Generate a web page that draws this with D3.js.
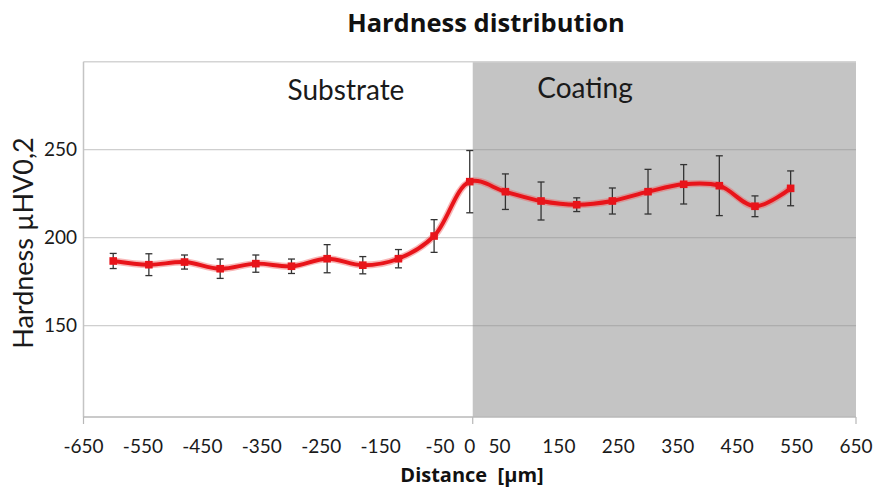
<!DOCTYPE html>
<html>
<head>
<meta charset="utf-8">
<script src="https://cdn.jsdelivr.net/npm/d3@7"></script>
<style>
  html, body { margin: 0; padding: 0; background: #ffffff; }
  svg { display: block; }
  text { font-family: Lato, "Open Sans", "DejaVu Sans", sans-serif; fill: #1a1a1a; }
  .bold { font-family: "Open Sans", Lato, "DejaVu Sans", sans-serif; font-weight: bold; fill: #111; }
</style>
</head>
<body>
<svg id="chart" width="875" height="490"></svg>
<script>
// ---- data ----
const distances = [-600, -540, -480, -420, -360, -300, -240, -180, -120, -60, 0,
                   60, 120, 180, 240, 300, 360, 420, 480, 540];
const hardness  = [186.7, 184.6, 186.1, 182.3, 185.2, 183.7, 188.0, 184.3, 188.0, 200.9, 231.8,
                   226.1, 220.8, 218.7, 220.8, 226.1, 230.3, 229.5, 217.8, 228.0];
const errors    = [4.3, 6.2, 4.0, 5.5, 4.9, 4.1, 8.0, 4.9, 5.2, 9.3, 17.7,
                   10.1, 10.8, 3.9, 7.4, 12.7, 11.2, 17.0, 5.9, 9.9];
const xTickValues = [-650, -550, -450, -350, -250, -150, -50, 0, 50, 150, 250, 350, 450, 550, 650];
const yTickValues = [150, 200, 250];
const xDomain = [-650, 650];
const yDomain = [98, 300];
const coatingStart = 5;
const titleText = "Hardness distribution";
const xTitle = "Distance  [\u00b5m]";
const yTitle = "Hardness \u00b5HV0,2";
const regionLabels = ["Substrate", "Coating"];

// ---- drawing ----
const svg = d3.select("#chart");
const x = d3.scaleLinear().domain(xDomain).range([83.5, 856]);
const y = d3.scaleLinear().domain(yDomain).range([417, 61.7]);

const data = distances.map((d, i) => ({ x: d, v: hardness[i], e: errors[i] }));

// coating shaded region
svg.append("rect")
  .attr("x", x(coatingStart)).attr("y", y(yDomain[1]))
  .attr("width", x(xDomain[1]) - x(coatingStart))
  .attr("height", y(yDomain[0]) - y(yDomain[1]))
  .attr("fill", "#c4c4c4");

// gridlines
svg.append("g").selectAll("line").data(yTickValues).join("line")
  .attr("x1", x(xDomain[0])).attr("x2", x(xDomain[1]))
  .attr("y1", d => y(d)).attr("y2", d => y(d))
  .attr("stroke", "#8c8c8c").attr("stroke-opacity", 0.42).attr("stroke-width", 1.2);

// top border
svg.append("line")
  .attr("x1", x(xDomain[0])).attr("x2", x(xDomain[1]))
  .attr("y1", y(yDomain[1])).attr("y2", y(yDomain[1]))
  .attr("stroke", "#d4d4d4").attr("stroke-width", 1.5);

// left axis line
svg.append("line")
  .attr("x1", x(xDomain[0])).attr("x2", x(xDomain[0]))
  .attr("y1", y(yDomain[1])).attr("y2", y(yDomain[0]))
  .attr("stroke", "#c4c4c4").attr("stroke-width", 1.5);

// bottom axis line
svg.append("line")
  .attr("x1", x(xDomain[0])).attr("x2", x(xDomain[1]))
  .attr("y1", y(yDomain[0])).attr("y2", y(yDomain[0]))
  .attr("stroke", "#b8b8b8").attr("stroke-width", 1.5);

// x tick marks
svg.append("g").selectAll("line").data([xDomain[0], coatingStart, xDomain[1]]).join("line")
  .attr("x1", d => x(d)).attr("x2", d => x(d))
  .attr("y1", y(yDomain[0])).attr("y2", y(yDomain[0]) + 7)
  .attr("stroke", "#b8b8b8").attr("stroke-width", 1.2);

// x tick labels
svg.append("g").selectAll("text").data(xTickValues).join("text")
  .attr("x", d => x(d)).attr("y", 453)
  .attr("text-anchor", "middle")
  .attr("font-size", 19)
  .text(d => String(d));

// y tick labels
svg.append("g").selectAll("text").data(yTickValues).join("text")
  .attr("x", 77).attr("y", d => y(d)).attr("dy", "0.36em")
  .attr("text-anchor", "end")
  .attr("font-size", 19)
  .text(d => String(d));

// error bars
const eb = svg.append("g").attr("stroke", "#333333").attr("stroke-width", 1.3);
data.forEach(d => {
  const cx = x(d.x);
  eb.append("line").attr("x1", cx).attr("x2", cx).attr("y1", y(d.v + d.e)).attr("y2", y(d.v - d.e));
  eb.append("line").attr("x1", cx - 3.5).attr("x2", cx + 3.5).attr("y1", y(d.v + d.e)).attr("y2", y(d.v + d.e));
  eb.append("line").attr("x1", cx - 3.5).attr("x2", cx + 3.5).attr("y1", y(d.v - d.e)).attr("y2", y(d.v - d.e));
});

// smoothed line
const line = d3.line().x(d => x(d.x)).y(d => y(d.v)).curve(d3.curveCatmullRom.alpha(0.5));
svg.append("path").attr("d", line(data))
  .attr("fill", "none").attr("stroke", "#f06060").attr("stroke-opacity", 0.45)
  .attr("stroke-width", 7).attr("stroke-linejoin", "round");
svg.append("path").attr("d", line(data))
  .attr("fill", "none").attr("stroke", "#e8141a")
  .attr("stroke-width", 3.9).attr("stroke-linejoin", "round");

// markers
svg.append("g").selectAll("rect").data(data).join("rect")
  .attr("x", d => x(d.x) - 3.8).attr("y", d => y(d.v) - 3.8)
  .attr("width", 7.6).attr("height", 7.6)
  .attr("fill", "#e8141a");

// title
svg.append("text").attr("class", "bold")
  .attr("x", 486).attr("y", 32)
  .attr("text-anchor", "middle")
  .attr("font-size", 25.5)
  .text(titleText);

// region labels
svg.append("text").attr("x", 346).attr("y", 100)
  .attr("text-anchor", "middle").attr("font-size", 28)
  .text(regionLabels[0]);
svg.append("text").attr("x", 585).attr("y", 98)
  .attr("text-anchor", "middle").attr("font-size", 28)
  .text(regionLabels[1]);

// axis titles
svg.append("text").attr("class", "bold")
  .attr("x", 472).attr("y", 482)
  .attr("text-anchor", "middle")
  .attr("font-size", 20)
  .attr("xml:space", "preserve").style("white-space", "pre")
  .text(xTitle);

svg.append("text")
  .attr("transform", "translate(33,243) rotate(-90)")
  .attr("text-anchor", "middle")
  .attr("font-size", 27)
  .text(yTitle);
</script>
</body>
</html>
